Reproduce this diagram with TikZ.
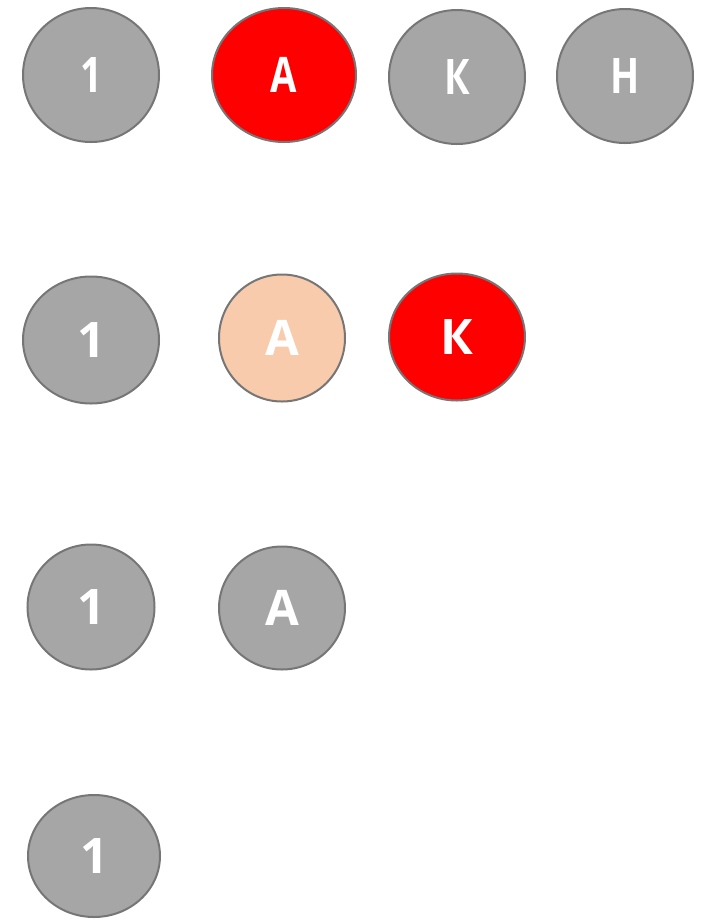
\documentclass[tikz,border=0pt]{standalone}
\usepackage{graphicx}
\usepackage{fontspec}
\setmainfont{DejaVu Sans}
\newfontfamily\ballfont{Open Sans}
\usetikzlibrary{shapes.geometric}
\definecolor{ballgray}{HTML}{A6A6A6}
\definecolor{ringgray}{HTML}{767676}
\definecolor{hotred}{HTML}{FF0000}
\definecolor{peach}{HTML}{F8CBAD}
\newcommand{\bigfont}{\fontsize{49}{56}\selectfont\bfseries}
\newcommand{\narrowtxt}[1]{\scalebox{0.78}[1]{#1}}

\begin{document}
\begin{tikzpicture}[x=1pt,y=-1pt]
  \path[use as bounding box] (0,0) rectangle (706,922);
  \tikzset{
    ball/.style={ellipse,draw=ringgray,fill=ballgray,line width=2pt,text=white,inner sep=0pt,font=\ballfont\bigfont},
    redball/.style={fill=hotred},
    peachball/.style={fill=peach}
  }
  % first row
  \node[ball,minimum width=136pt,minimum height=134pt] (one1) at (91,75) {\narrowtxt{1}};
  \node[ball,redball,minimum width=144pt,minimum height=134pt] (a1) at (284,75) {\narrowtxt{А}};
  \node[ball,minimum width=136pt,minimum height=134pt] (k1) at (457,77) {\narrowtxt{К}};
  \node[ball,minimum width=136pt,minimum height=134pt] (n1) at (625,76) {\narrowtxt{Н}};

  % second row
  \node[ball,minimum width=136pt,minimum height=127pt] (one2) at (91,340) {1};
  \node[ball,peachball,minimum width=126pt,minimum height=127pt] (a2) at (282,338) {А};
  \node[ball,redball,minimum width=136pt,minimum height=127pt] (k2) at (457,337) {К};

  % third row
  \node[ball,minimum width=127pt,minimum height=125pt] (one3) at (91,607) {1};
  \node[ball,minimum width=126pt,minimum height=123pt] (a3) at (282,608) {А};

  % fourth row
  \node[ball,minimum width=132pt,minimum height=122pt] (one4) at (94,856) {1};
\end{tikzpicture}
\end{document}
